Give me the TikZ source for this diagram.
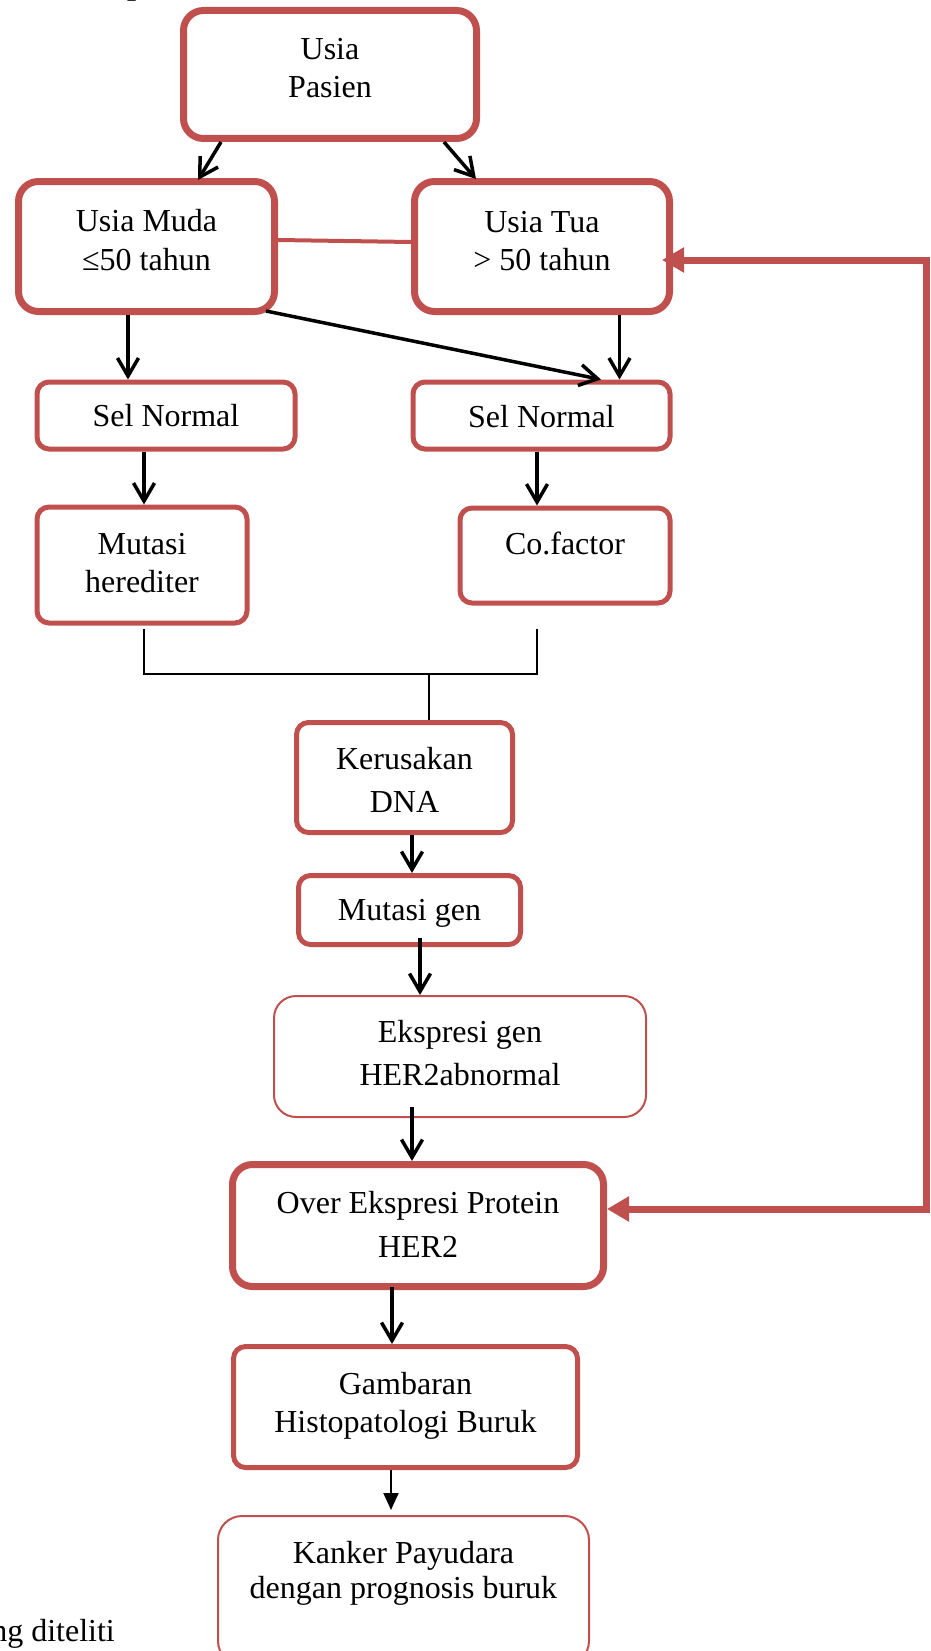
\documentclass[tikz,border=0pt]{standalone}
\usepackage{fontspec}
\setmainfont{Liberation Serif}
\usetikzlibrary{arrows.meta}
\definecolor{accent}{RGB}{192,80,77}

\begin{document}
\begin{tikzpicture}[x=1pt,y=-1pt,
  box/.style={draw=accent,rounded corners=#1,align=center,inner sep=0pt,
    font=\fontsize{32}{38}\selectfont,text depth=0pt},
  box/.default=14pt,
  heavy/.style={box=20pt,line width=7pt},
  medium/.style={box=12pt,line width=5pt},
  light/.style={box=22pt,line width=2pt},
  flow/.style={line width=3.5pt,-{Straight Barb[length=18pt,width=21pt]}},
  bracket/.style={line width=1.5pt},
  link/.style={accent,line width=4pt},
  feedback/.style={accent,line width=7pt,
    {Triangle[length=22pt,width=24pt]}-{Triangle[length=22pt,width=24pt]}}]
\path[use as bounding box,clip] (0,0) rectangle (930,1651);

% boxes
\node[heavy,minimum width=293pt,minimum height=128pt,text height=47pt] (pasien) at (330,74.5) {Usia\\Pasien};
\node[heavy,minimum width=256pt,minimum height=130pt,text height=47pt] (muda) at (146.5,246.5) {Usia Muda\\[1pt]≤50 tahun};
\node[heavy,minimum width=255pt,minimum height=130pt,text height=47pt] (tua) at (542,246.5) {Usia Tua\\> 50 tahun};
\node[medium,minimum width=258pt,minimum height=67pt,text height=22pt] (selL) at (166,415.5) {Sel Normal};
\node[medium,minimum width=257pt,minimum height=67pt,text height=23pt] (selR) at (541.5,415.5) {Sel Normal};
\node[medium,minimum width=210pt,minimum height=116pt,text height=54pt] (mutasi) at (142,565) {Mutasi\\herediter};
\node[medium,minimum width=210pt,minimum height=95pt,text height=0pt,text depth=3pt] (cofactor) at (565,555.5) {Co.factor};
\node[medium,minimum width=216pt,minimum height=110pt,text height=69pt] (kerusakan) at (404.5,777.5) {Kerusakan\\[5pt]DNA};
\node[medium,minimum width=222pt,minimum height=69pt,text height=21pt] (mutgen) at (409.5,910) {Mutasi gen};
\node[light,minimum width=372pt,minimum height=121pt,text height=57pt] (ekspresi) at (460,1056.5) {Ekspresi gen\\[5pt]HER2abnormal};
\node[heavy,minimum width=371pt,minimum height=122pt,text height=63pt] (over) at (418,1225.5) {Over Ekspresi Protein\\[6pt]HER2};
\node[medium,minimum width=344pt,minimum height=121pt,text height=50pt] (gambaran) at (405.5,1407) {Gambaran\\Histopatologi Buruk};
\node[light,box=24pt,minimum width=371pt,minimum height=149pt,text height=15pt] (kanker) at (403.5,1590.5) {Kanker Payudara\\[-3pt]dengan prognosis buruk};

% texts cut by the page edge
\node[anchor=base west,inner sep=0pt,font=\fontsize{32}{38}\selectfont\bfseries] (heading) at (127,-5) {p};
\node[anchor=base east,inner sep=0pt,font=\fontsize{32}{38}\selectfont] (note) at (115,1641) {ng diteliti};

% connectors
\draw[flow] ([xshift=41pt]pasien.south west) -- ([xshift=183pt,yshift=-2pt]muda.north west);
\draw[flow] ([xshift=-36pt]pasien.south east) -- ([xshift=65pt,yshift=-1pt]tua.north west);
\draw[link] ([yshift=6.5pt]muda.east) -- ([yshift=4.5pt]tua.west);
\draw[flow] ([xshift=-18.5pt]muda.south) -- ([xshift=-38pt]selL.north);
\draw[flow] ([xshift=-12pt,yshift=4pt]muda.south east) -- ([xshift=59.5pt]selR.north);
\draw[flow] ([xshift=77.5pt]tua.south) -- ([xshift=78pt]selR.north);
\draw[flow] ([xshift=-22pt]selL.south) -- ([xshift=2pt]mutasi.north);
\draw[flow] ([xshift=-4.5pt]selR.south) -- ([xshift=-28pt]cofactor.north);

\coordinate (junction) at (429,674);
\draw[bracket] ([xshift=2pt,yshift=-3pt]mutasi.south) |- (junction) -| ([xshift=-28pt,yshift=-23pt]cofactor.south);
\draw[bracket] (junction) -- (junction |- kerusakan.north);

\draw[flow] ([xshift=7.5pt]kerusakan.south) -- ([xshift=2.5pt]mutgen.north);
\draw[flow] ([xshift=10.5pt,yshift=9pt]mutgen.south) -- ([xshift=-40pt]ekspresi.north);
\draw[flow] ([xshift=-48pt,yshift=11pt]ekspresi.south) -- ([xshift=-6pt]over.north);
\draw[flow] ([xshift=-26pt,yshift=3pt]over.south) -- ([xshift=-13.5pt]gambaran.north);
\draw[line width=2pt,-{Triangle[length=17pt,width=15pt]}] ([xshift=-14.5pt]gambaran.south) -- ([xshift=-12.5pt,yshift=5pt]kanker.north);

% feedback loop
\coordinate (fbtop) at (926,260);
\coordinate (fbbot) at (926,1209);
\draw[feedback,shorten >=-11pt] (fbbot -| over.east) -- (fbbot) -- (fbtop) -- (fbtop -| tua.east);

\end{tikzpicture}
\end{document}
